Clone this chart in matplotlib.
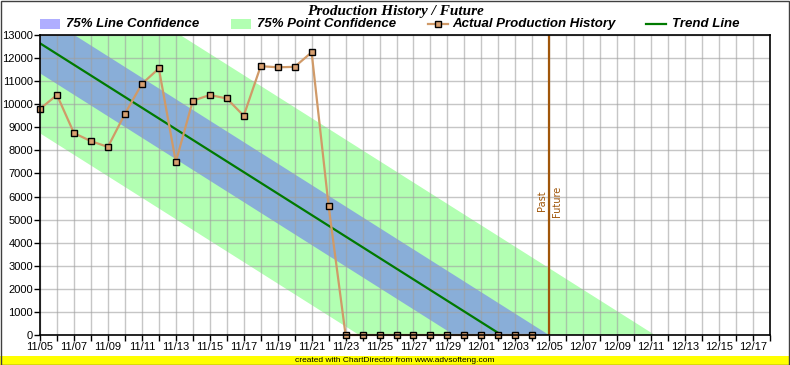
import numpy as np
import matplotlib
matplotlib.use("Agg")
import matplotlib.pyplot as plt
from matplotlib.patches import Rectangle
from matplotlib.lines import Line2D

# Data (day 0 = 11/05)
days = list(range(0, 30))
production = [9800, 10400, 8750, 8400, 8150, 9580, 10880, 11550, 7500, 10150,
              10400, 10250, 9500, 11650, 11600, 11620, 12250, 5600,
              0, 0, 0, 0, 0, 0, 0, 0, 0, 0, 0, 0]
tick_labels = ["11/05", "11/07", "11/09", "11/11", "11/13", "11/15", "11/17",
               "11/19", "11/21", "11/23", "11/25", "11/27", "11/29", "12/01",
               "12/03", "12/05", "12/07", "12/09", "12/11", "12/13", "12/15",
               "12/17"]
trend_start = 12640
trend_slope = -465
line_conf = 1300
point_conf_up = 4200
point_conf_down = 3900
now_day = 30

blue = (0.38, 0.37, 1.0)
green = (0.0, 1.0, 0.0)

W, H = 790, 365
fig = plt.figure(figsize=(W / 100, H / 100), dpi=100)
ax = fig.add_axes([40 / W, 1 - 335 / H, (770 - 40) / W, 300 / H])

x = np.linspace(0, 43, 400)
trend = trend_start + trend_slope * x
ax.fill_between(x, trend - point_conf_down, trend + point_conf_up, color=green, alpha=0.3, lw=0, zorder=1)
ax.fill_between(x, trend - line_conf, trend + line_conf, color=blue, alpha=0.5, lw=0, zorder=1.2)
ax.plot(x[trend > 0], trend[trend > 0], color="#007a00", lw=1.6, zorder=4)

ax.plot(days, production, color="#d09a68", lw=1.6, marker="s", markersize=5,
        markerfacecolor="#d8a070", markeredgecolor="black", markeredgewidth=1,
        zorder=5, clip_on=False)

ax.axvline(now_day, color="#a0560a", lw=1.6, zorder=6)
ax.text(now_day - 0.15, 5800, "Past", rotation=90, ha="right", va="center",
        fontsize=7, color="#a0560a", family="DejaVu Sans")
ax.text(now_day + 0.15, 5800, "Future", rotation=90, ha="left", va="center",
        fontsize=7, color="#a0560a", family="DejaVu Sans")

ax.set_xlim(0, 43)
ax.set_ylim(0, 13000)
ax.set_xticks(range(0, 43, 2))
ax.set_xticks(range(0, 44), minor=True)
ax.set_xticklabels(tick_labels)
ax.set_yticks(range(0, 13001, 1000))
ax.grid(True, which="both", axis="x", color="#a0a0a0", alpha=0.6, lw=1)
ax.grid(True, which="major", axis="y", color="#a0a0a0", alpha=0.6, lw=1)
ax.set_axisbelow("line")
ax.tick_params(axis="both", which="both", direction="out", length=4, width=1,
               labelsize=8, pad=1)
for lab in ax.get_xticklabels() + ax.get_yticklabels():
    lab.set_family("Liberation Sans")
for s in ax.spines.values():
    s.set_linewidth(1.2)
    s.set_zorder(7)

fig.text(395 / W, 1 - 11 / H, "Production History / Future", ha="center", va="center",
         fontsize=11, fontweight="bold", style="italic", family="Liberation Serif")

# legend row
ly = 1 - 24 / H
fig.patches.append(Rectangle((40 / W, ly - 5 / H), 20 / W, 10 / H, transform=fig.transFigure,
                             color=blue, alpha=0.5, lw=0))
fig.patches.append(Rectangle((231 / W, ly - 5 / H), 20 / W, 10 / H, transform=fig.transFigure,
                             color=green, alpha=0.3, lw=0))
fig.lines.append(Line2D([428 / W, 438 / W, 448 / W], [ly, ly, ly], transform=fig.transFigure,
                        color="#d09a68", lw=1.6, marker="s", markersize=5, markevery=[1],
                        markerfacecolor="#d8a070", markeredgecolor="black"))
fig.lines.append(Line2D([646 / W, 666 / W], [ly, ly], transform=fig.transFigure,
                        color="#007a00", lw=1.6))
for xt, txt in [(66, "75% Line Confidence"), (257, "75% Point Confidence"),
                (452, "Actual Production History"), (672, "Trend Line")]:
    fig.text(xt / W, ly, txt, ha="left", va="center", fontsize=9.5,
             fontweight="bold", style="italic", family="Liberation Sans")

# footer band
fig.patches.append(Rectangle((0, 0), 1, 9 / H, transform=fig.transFigure,
                             color="#ffff00", lw=0))
fig.text(0.5, 4.5 / H, "created with ChartDirector from www.advsofteng.com", ha="center",
         va="center", fontsize=6, family="Liberation Sans")
fig.patches.append(Rectangle((0.5 / W, 0.5 / H), 1 - 1.5 / W, 1 - 1.5 / H,
                             transform=fig.transFigure, fill=False, edgecolor="#404040", lw=1))

fig.savefig("out.png", dpi=100)
